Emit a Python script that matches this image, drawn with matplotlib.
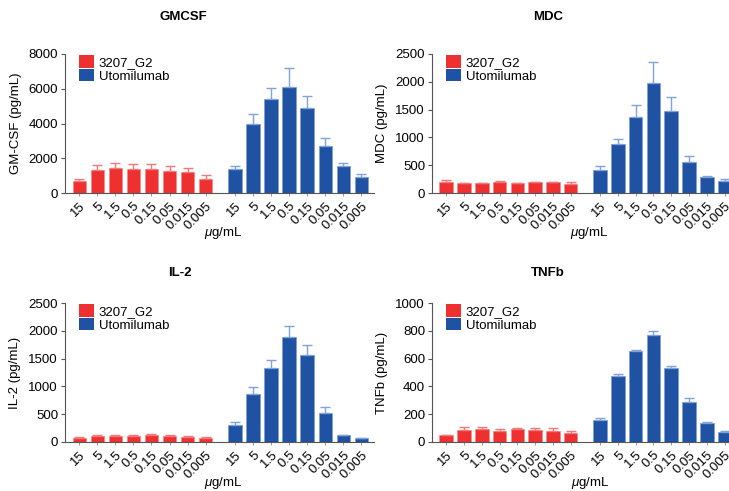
import numpy as np
from matplotlib import pyplot as plt
from matplotlib.patches import Patch

plt.rcParams['font.family'] = ['Liberation Sans', 'DejaVu Sans']
plt.rcParams['mathtext.fontset'] = 'custom'
plt.rcParams['mathtext.it'] = 'Liberation Sans:italic'

# doses (ug/mL), same for both antibodies
doses = ['15', '5', '1.5', '0.5', '0.15', '0.05', '0.015', '0.005']

# GM-CSF (pg/mL)
gmcsf_g2 = [670, 1340, 1435, 1400, 1400, 1280, 1205, 820]
gmcsf_g2_err = [130, 290, 285, 265, 265, 270, 210, 210]
gmcsf_uto = [1400, 3980, 5400, 6125, 4880, 2680, 1530, 900]
gmcsf_uto_err = [150, 555, 665, 1055, 710, 500, 210, 190]

# MDC (pg/mL)
mdc_g2 = [197, 173, 173, 203, 173, 197, 197, 155]
mdc_g2_err = [36, 8, 8, 8, 8, 8, 8, 36]
mdc_uto = [413, 879, 1364, 1974, 1471, 556, 281, 215]
mdc_uto_err = [71, 96, 215, 376, 251, 102, 30, 36]

# IL-2 (pg/mL)
il2_g2 = [73, 115, 115, 115, 127, 115, 91, 73]
il2_g2_err = [8, 10, 10, 10, 10, 8, 8, 8]
il2_uto = [297, 860, 1326, 1882, 1556, 521, 127, 67]
il2_uto_err = [54, 127, 145, 200, 194, 102, 5, 5]

# TNFb (pg/mL)
tnfb_g2 = [50, 86, 91, 82, 91, 86, 82, 65]
tnfb_g2_err = [3, 20, 17, 12, 12, 17, 21, 14]
tnfb_uto = [161, 475, 652, 770, 535, 285, 137, 72]
tnfb_uto_err = [14, 17, 12, 29, 14, 29, 9, 10]

RED = '#EE3030'
RED_ERR = '#F07A7A'
BLUE = '#1F52A3'
BLUE_ERR = '#7FA3DA'


def drawPanel(ax, g2, g2err, uto, utoerr, ymax, yticks, ylabel):
    xr = np.arange(8)
    xb = np.arange(8) + 8.65
    w = 0.76

    ax.bar(xr, g2, w, color=RED, edgecolor='#F58C8C', linewidth=0.6,
           yerr=[np.zeros(8), g2err], ecolor=RED_ERR, capsize=3.5,
           error_kw={'elinewidth': 1.0, 'capthick': 1.0})
    ax.bar(xb, uto, w, color=BLUE, edgecolor='#7F9FD5', linewidth=0.6,
           yerr=[np.zeros(8), utoerr], ecolor=BLUE_ERR, capsize=3.5,
           error_kw={'elinewidth': 1.0, 'capthick': 1.0})

    ax.set_xlim(-0.8, 16.35)
    ax.set_ylim(0, ymax)
    ax.set_yticks(yticks)
    ax.set_xticks(list(xr) + list(xb))
    ax.set_xticklabels(doses + doses, rotation=45, ha='right',
                       rotation_mode='anchor', fontsize=9.5)

    for s in ['top', 'right']:
        ax.spines[s].set_visible(False)
    for s in ['left', 'bottom']:
        ax.spines[s].set_color('#555555')
        ax.spines[s].set_linewidth(0.8)
    ax.tick_params(axis='y', labelsize=9.5, length=3, width=0.8, color='#555555', pad=2)
    ax.tick_params(axis='x', length=2, width=0.6, color='#888888', pad=3)
    ax.set_ylabel(ylabel, fontsize=9.5, labelpad=5)

    handles = [Patch(facecolor=RED, label='3207_G2'),
               Patch(facecolor=BLUE, label='Utomilumab')]
    ax.legend(handles=handles, loc='upper left', bbox_to_anchor=(0.02, 1.05),
              frameon=False, fontsize=9.5, handlelength=1.1, handleheight=1.1,
              handletextpad=0.4, labelspacing=0.0, borderaxespad=0.2)


def main():
    W, H = 729, 491
    fig = plt.figure(figsize=(W / 100, H / 100), dpi=100)

    def box(x0, x1, ytop, ybot):
        return [x0 / W, 1 - ybot / H, (x1 - x0) / W, (ybot - ytop) / H]

    ax1 = fig.add_axes(box(65, 374, 54, 193))
    ax2 = fig.add_axes(box(432, 737, 54, 193))
    ax3 = fig.add_axes(box(65, 374, 303, 442))
    ax4 = fig.add_axes(box(432, 737, 303, 442))

    drawPanel(ax1, gmcsf_g2, gmcsf_g2_err, gmcsf_uto, gmcsf_uto_err,
              8000, [0, 2000, 4000, 6000, 8000], 'GM-CSF (pg/mL)')
    drawPanel(ax2, mdc_g2, mdc_g2_err, mdc_uto, mdc_uto_err,
              2500, [0, 500, 1000, 1500, 2000, 2500], 'MDC (pg/mL)')
    drawPanel(ax3, il2_g2, il2_g2_err, il2_uto, il2_uto_err,
              2500, [0, 500, 1000, 1500, 2000, 2500], 'IL-2 (pg/mL)')
    drawPanel(ax4, tnfb_g2, tnfb_g2_err, tnfb_uto, tnfb_uto_err,
              1000, [0, 200, 400, 600, 800, 1000], 'TNFb (pg/mL)')

    # titles and x labels as figure text
    fig.text(183 / W, 1 - 17 / H, 'GMCSF', ha='center', va='center', fontsize=9.5, fontweight='bold')
    fig.text(548 / W, 1 - 17 / H, 'MDC', ha='center', va='center', fontsize=9.5, fontweight='bold')
    fig.text(180 / W, 1 - 273 / H, 'IL-2', ha='center', va='center', fontsize=9.5, fontweight='bold')
    fig.text(548 / W, 1 - 273 / H, 'TNFb', ha='center', va='center', fontsize=9.5, fontweight='bold')

    for x, y in [(223, 233), (589, 233), (223, 483), (590, 483)]:
        fig.text(x / W, 1 - y / H, r'$\mu$g/mL', ha='center', va='center', fontsize=9.5)

    fig.savefig('out.png', dpi=100)


if __name__ == '__main__':
    main()
